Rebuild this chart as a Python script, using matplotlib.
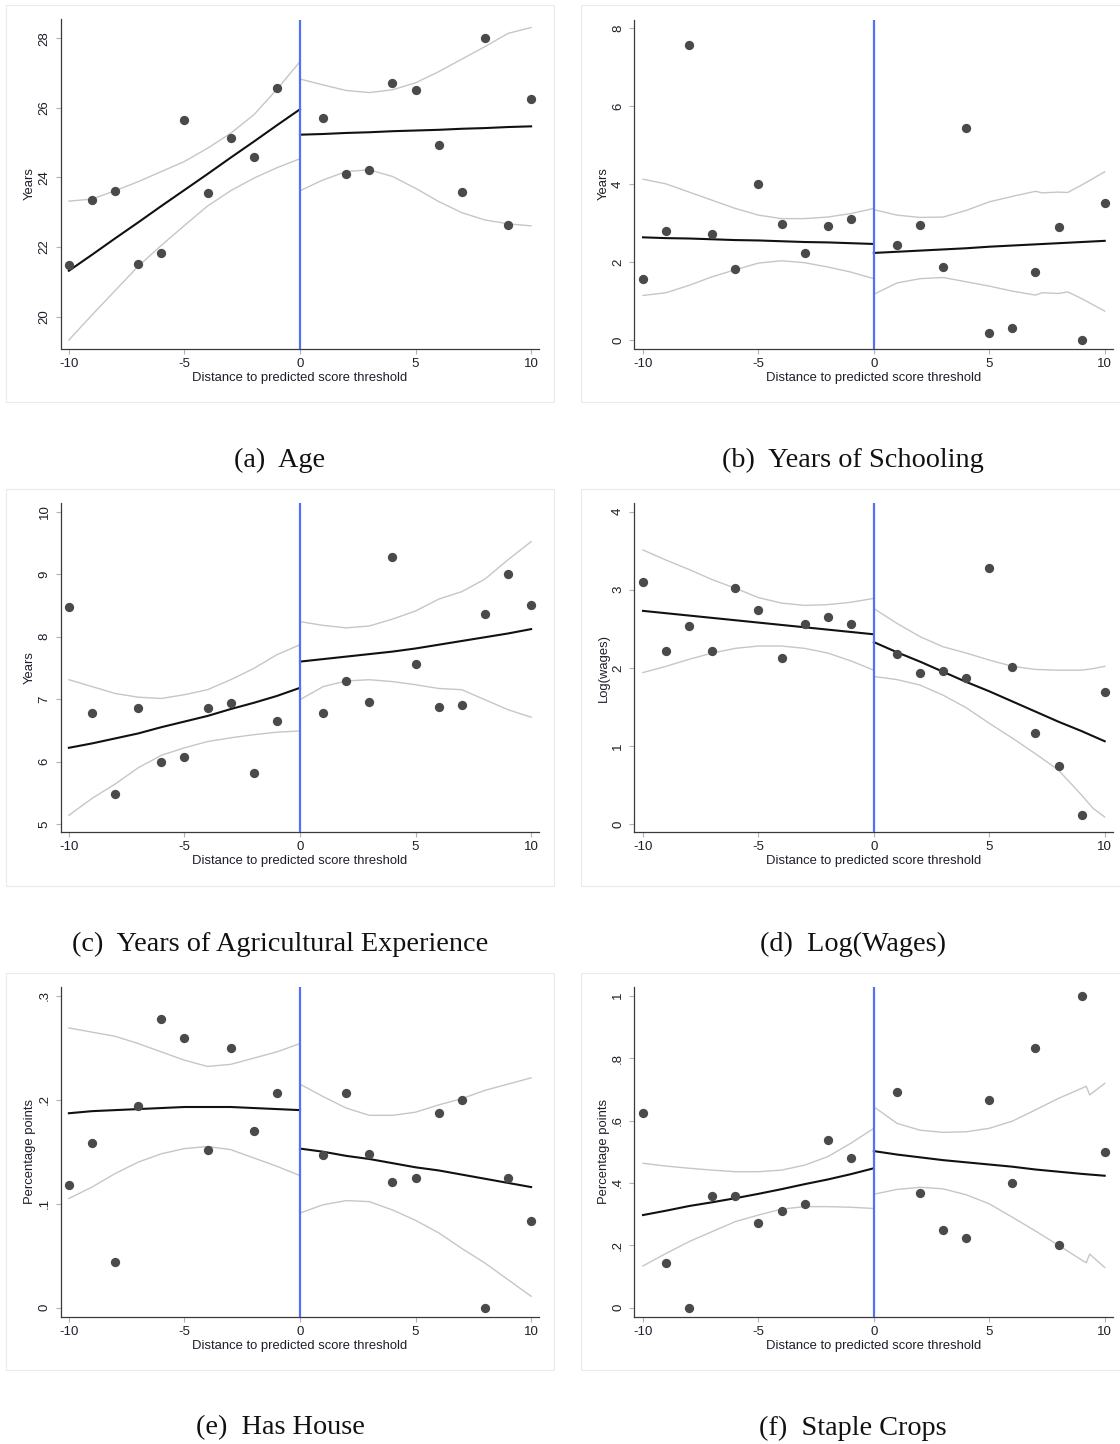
import matplotlib
matplotlib.use("Agg")
import matplotlib.pyplot as plt
from matplotlib.patches import Rectangle

plt.rcParams['font.family'] = ['Liberation Sans', 'DejaVu Sans']

# ---------------- data ----------------
X_LEFT = [-10, -9, -8, -7, -6, -5, -4, -3, -2, -1]
X_RIGHT = [1, 2, 3, 4, 5, 6, 7, 8, 9, 10]
GRID_L = [-10, -9, -8, -7, -6, -5, -4, -3, -2, -1, 0]
GRID_R = [0, 1, 2, 3, 4, 5, 6, 7, 8, 9, 10]
X_TICKS = [-10, -5, 0, 5, 10]
X_LABEL = "Distance to predicted score threshold"

# (a) Age
a_left = [21.49, 23.34, 23.62, 21.52, 21.84, 25.64, 23.55, 25.13, 24.60, 26.58]
a_right = [25.72, 24.11, 24.22, 26.72, 26.50, 24.93, 23.59, 28.00, 22.63, 26.25]
a_fit_l = [21.32, 21.78, 22.25, 22.71, 23.18, 23.64, 24.10, 24.57, 25.03, 25.50, 25.96]
a_fit_r = [25.23, 25.25, 25.28, 25.30, 25.33, 25.35, 25.37, 25.40, 25.42, 25.45, 25.47]
a_hi_l = [23.32, 23.38, 23.62, 23.88, 24.17, 24.46, 24.84, 25.27, 25.80, 26.53, 27.33]
a_lo_l = [19.33, 20.05, 20.75, 21.45, 22.05, 22.62, 23.18, 23.62, 23.98, 24.28, 24.54]
a_hi_r = [26.83, 26.66, 26.50, 26.44, 26.52, 26.72, 27.04, 27.40, 27.76, 28.14, 28.31]
a_lo_r = [23.62, 23.93, 24.17, 24.22, 24.03, 23.69, 23.31, 22.99, 22.78, 22.67, 22.61]
a_yticks = [20, 22, 24, 26, 28]
a_yticklabels = ["20", "22", "24", "26", "28"]

# (b) Years of Schooling
b_left = [1.55, 2.79, 7.55, 2.72, 1.82, 3.99, 2.97, 2.23, 2.91, 3.11]
b_right = [2.44, 2.95, 1.88, 5.44, 0.17, 0.30, 1.75, 2.90, 0.00, 3.50]
b_fit_l = [2.63, 2.61, 2.60, 2.58, 2.56, 2.55, 2.53, 2.51, 2.50, 2.48, 2.46]
b_fit_r = [2.23, 2.26, 2.29, 2.32, 2.35, 2.39, 2.42, 2.45, 2.48, 2.51, 2.54]
b_hi_l = [4.12, 4.00, 3.79, 3.58, 3.37, 3.20, 3.11, 3.11, 3.15, 3.24, 3.37]
b_lo_l = [1.14, 1.21, 1.40, 1.62, 1.80, 1.97, 2.03, 1.98, 1.87, 1.74, 1.57]
b_grid_r = [0, 1, 2, 3, 4, 5, 6, 7, 7.3, 8, 8.4, 9, 10]
b_hi_r = [3.34, 3.20, 3.14, 3.15, 3.32, 3.54, 3.68, 3.81, 3.77, 3.79, 3.78, 3.97, 4.31]
b_lo_r = [1.17, 1.46, 1.57, 1.60, 1.49, 1.38, 1.25, 1.15, 1.21, 1.19, 1.23, 1.06, 0.74]
b_yticks = [0, 2, 4, 6, 8]
b_yticklabels = ["0", "2", "4", "6", "8"]

# (c) Years of Agricultural Experience
c_left = [8.47, 6.78, 5.48, 6.85, 6.00, 6.08, 6.85, 6.94, 5.82, 6.65]
c_right = [6.78, 7.29, 6.95, 9.28, 7.56, 6.88, 6.90, 8.36, 9.00, 8.50]
c_fit_l = [6.22, 6.29, 6.37, 6.45, 6.55, 6.64, 6.73, 6.84, 6.94, 7.05, 7.18]
c_fit_r = [7.60, 7.64, 7.68, 7.72, 7.76, 7.81, 7.87, 7.93, 7.99, 8.05, 8.12]
c_hi_l = [7.31, 7.20, 7.09, 7.03, 7.01, 7.07, 7.15, 7.31, 7.49, 7.71, 7.87]
c_lo_l = [5.14, 5.41, 5.64, 5.90, 6.10, 6.22, 6.32, 6.38, 6.43, 6.47, 6.49]
c_hi_r = [8.24, 8.18, 8.14, 8.17, 8.28, 8.41, 8.60, 8.72, 8.92, 9.23, 9.52]
c_lo_r = [6.99, 7.20, 7.29, 7.31, 7.28, 7.23, 7.17, 7.15, 6.99, 6.83, 6.71]
c_yticks = [5, 6, 7, 8, 9, 10]
c_yticklabels = ["5", "6", "7", "8", "9", "10"]

# (d) Log(Wages)
d_left = [3.10, 2.22, 2.54, 2.22, 3.02, 2.74, 2.13, 2.56, 2.65, 2.56]
d_right = [2.18, 1.94, 1.96, 1.87, 3.28, 2.01, 1.16, 0.74, 0.11, 1.69]
d_fit_l = [2.73, 2.70, 2.67, 2.64, 2.61, 2.58, 2.55, 2.52, 2.49, 2.46, 2.43]
d_fit_r = [2.33, 2.20, 2.08, 1.95, 1.82, 1.70, 1.57, 1.44, 1.31, 1.19, 1.06]
d_hi_l = [3.51, 3.38, 3.26, 3.13, 3.02, 2.90, 2.83, 2.80, 2.81, 2.84, 2.89]
d_lo_l = [1.94, 2.02, 2.11, 2.19, 2.25, 2.28, 2.28, 2.25, 2.19, 2.09, 1.97]
d_grid_r = [0, 1, 2, 3, 4, 5, 6, 7, 8, 9, 9.5, 10]
d_hi_r = [2.76, 2.57, 2.40, 2.27, 2.19, 2.10, 2.02, 1.98, 1.97, 1.97, 1.99, 2.02]
d_lo_r = [1.89, 1.85, 1.78, 1.65, 1.49, 1.29, 1.10, 0.90, 0.69, 0.37, 0.20, 0.09]
d_yticks = [0, 1, 2, 3, 4]
d_yticklabels = ["0", "1", "2", "3", "4"]

# (e) Has House
e_left = [0.118, 0.158, 0.044, 0.194, 0.278, 0.259, 0.152, 0.250, 0.170, 0.206]
e_right = [0.147, 0.206, 0.148, 0.121, 0.125, 0.187, 0.200, 0.000, 0.125, 0.083]
e_fit_l = [0.187, 0.189, 0.190, 0.191, 0.192, 0.193, 0.193, 0.193, 0.192, 0.191, 0.190]
e_fit_r = [0.153, 0.150, 0.146, 0.143, 0.139, 0.135, 0.132, 0.128, 0.124, 0.120, 0.116]
e_hi_l = [0.269, 0.265, 0.261, 0.254, 0.246, 0.238, 0.232, 0.234, 0.240, 0.246, 0.254]
e_lo_l = [0.105, 0.116, 0.129, 0.140, 0.148, 0.153, 0.155, 0.152, 0.144, 0.136, 0.127]
e_hi_r = [0.215, 0.203, 0.192, 0.185, 0.185, 0.188, 0.195, 0.201, 0.209, 0.215, 0.221]
e_lo_r = [0.091, 0.099, 0.103, 0.102, 0.094, 0.084, 0.072, 0.057, 0.043, 0.027, 0.011]
e_yticks = [0, 0.1, 0.2, 0.3]
e_yticklabels = ["0", ".1", ".2", ".3"]

# (f) Staple Crops
f_left = [0.625, 0.142, 0.000, 0.358, 0.359, 0.272, 0.311, 0.333, 0.538, 0.481]
f_right = [0.691, 0.369, 0.250, 0.222, 0.667, 0.400, 0.833, 0.200, 1.000, 0.500]
f_fit_l = [0.297, 0.311, 0.326, 0.338, 0.351, 0.365, 0.380, 0.396, 0.411, 0.428, 0.447]
f_fit_r = [0.502, 0.491, 0.482, 0.473, 0.466, 0.459, 0.452, 0.443, 0.436, 0.429, 0.423]
f_hi_l = [0.463, 0.454, 0.447, 0.441, 0.436, 0.436, 0.441, 0.457, 0.484, 0.527, 0.575]
f_lo_l = [0.134, 0.174, 0.212, 0.244, 0.276, 0.297, 0.316, 0.324, 0.324, 0.322, 0.318]
f_grid_r = [0, 1, 2, 3, 4, 5, 6, 7, 8, 9, 9.2, 9.35, 10]
f_hi_r = [0.644, 0.591, 0.569, 0.562, 0.564, 0.575, 0.598, 0.634, 0.671, 0.703, 0.710, 0.682, 0.719]
f_lo_r = [0.364, 0.379, 0.386, 0.381, 0.362, 0.333, 0.290, 0.246, 0.200, 0.153, 0.144, 0.172, 0.129]
f_yticks = [0, 0.2, 0.4, 0.6, 0.8, 1.0]
f_yticklabels = ["0", ".2", ".4", ".6", ".8", "1"]

captions = ["(a)  Age", "(b)  Years of Schooling",
            "(c)  Years of Agricultural Experience", "(d)  Log(Wages)",
            "(e)  Has House", "(f)  Staple Crops"]
ylabels = ["Years", "Years", "Years", "Log(wages)", "Percentage points", "Percentage points"]

# ---------------- layout ----------------
W, H = 1120, 1444
fig = plt.figure(figsize=(W / 100, H / 100), dpi=100)
fig.patch.set_facecolor("white")

col_axes = [(60.5, 538.5), (634, 1113)]
row_axes = [(19.5, 348.5), (503.3, 831.7), (987.3, 1316.7)]
col_box = [(6.4, 553.6), (580.7, 1126)]
row_box = [(5, 402), (489.3, 886), (973.3, 1370)]
col_cap = [280, 853]
row_cap = [458, 942, 1426]
xlims = [(-10.363, 10.32), (-10.39, 10.36)]
ylims = [(19.086, 28.54), (-0.22, 8.215), (4.877, 10.134),
         (-0.0986, 4.108), (-0.00865, 0.3081), (-0.0288, 1.027)]

panels = [
    dict(l=a_left, r=a_right, fl=a_fit_l, fr=a_fit_r, hl=a_hi_l, ll=a_lo_l,
         gr=GRID_R, hr=a_hi_r, lr=a_lo_r, yt=a_yticks, ytl=a_yticklabels),
    dict(l=b_left, r=b_right, fl=b_fit_l, fr=b_fit_r, hl=b_hi_l, ll=b_lo_l,
         gr=b_grid_r, hr=b_hi_r, lr=b_lo_r, yt=b_yticks, ytl=b_yticklabels),
    dict(l=c_left, r=c_right, fl=c_fit_l, fr=c_fit_r, hl=c_hi_l, ll=c_lo_l,
         gr=GRID_R, hr=c_hi_r, lr=c_lo_r, yt=c_yticks, ytl=c_yticklabels),
    dict(l=d_left, r=d_right, fl=d_fit_l, fr=d_fit_r, hl=d_hi_l, ll=d_lo_l,
         gr=d_grid_r, hr=d_hi_r, lr=d_lo_r, yt=d_yticks, ytl=d_yticklabels),
    dict(l=e_left, r=e_right, fl=e_fit_l, fr=e_fit_r, hl=e_hi_l, ll=e_lo_l,
         gr=GRID_R, hr=e_hi_r, lr=e_lo_r, yt=e_yticks, ytl=e_yticklabels),
    dict(l=f_left, r=f_right, fl=f_fit_l, fr=f_fit_r, hl=f_hi_l, ll=f_lo_l,
         gr=f_grid_r, hr=f_hi_r, lr=f_lo_r, yt=f_yticks, ytl=f_yticklabels),
]

CI_C = "#c6c6c6"
FIT_C = "#111111"
PT_C = "#4a4a4a"
BLUE = "#5272f4"
TXT_C = "#1e1e2a"

for i, p in enumerate(panels):
    row, col = divmod(i, 2)
    x0, x1 = col_axes[col]
    y0, y1 = row_axes[row]
    ax = fig.add_axes([x0 / W, 1 - y1 / H, (x1 - x0) / W, (y1 - y0) / H])
    ax.set_facecolor("white")

    ax.plot(GRID_L, p["hl"], color=CI_C, lw=1.0, zorder=2)
    ax.plot(GRID_L, p["ll"], color=CI_C, lw=1.0, zorder=2)
    ax.plot(p["gr"], p["hr"], color=CI_C, lw=1.0, zorder=2)
    ax.plot(p["gr"], p["lr"], color=CI_C, lw=1.0, zorder=2)
    ax.plot(GRID_L, p["fl"], color=FIT_C, lw=1.5, zorder=3)
    ax.plot(GRID_R, p["fr"], color=FIT_C, lw=1.5, zorder=3)
    ax.axvline(0, color=BLUE, lw=1.6, zorder=4)
    ax.plot(X_LEFT, p["l"], "o", ms=6.7, color=PT_C, mec="none", zorder=5)
    ax.plot(X_RIGHT, p["r"], "o", ms=6.7, color=PT_C, mec="none", zorder=5)

    ax.set_xlim(*xlims[col])
    ax.set_ylim(*ylims[i])
    ax.set_xticks(X_TICKS, [str(t) for t in X_TICKS])
    ax.set_yticks(p["yt"], p["ytl"])

    for s in ("top", "right"):
        ax.spines[s].set_visible(False)
    for s in ("left", "bottom"):
        ax.spines[s].set_color("#3a3a3a")
        ax.spines[s].set_linewidth(0.9)

    ax.tick_params(direction="out", length=3.6, width=0.8, color="#b4b4b4",
                   labelsize=9.5, labelcolor=TXT_C, pad=3)
    ax.tick_params(axis="y", labelrotation=90, pad=3.5)
    for lab in ax.get_yticklabels():
        lab.set_verticalalignment("center")
        lab.set_horizontalalignment("right")

    ax.set_xlabel(X_LABEL, fontsize=9.4, color=TXT_C)
    ax.xaxis.set_label_coords(0.5, -29.5 / (y1 - y0))
    ax.xaxis.label.set_verticalalignment("center")
    ax.set_ylabel(ylabels[i], fontsize=9.4, color=TXT_C)
    ax.yaxis.set_label_coords(-30.5 / (x1 - x0), 0.5)
    ax.yaxis.label.set_verticalalignment("center")

    bx0, bx1 = col_box[col]
    by0, by1 = row_box[row]
    fig.add_artist(Rectangle((bx0 / W, 1 - by1 / H), (bx1 - bx0) / W, (by1 - by0) / H,
                             transform=fig.transFigure, fill=False,
                             ec="#ebebeb", lw=0.8))

    fig.text(col_cap[col] / W, 1 - (row_cap[row] + 2) / H, captions[i],
             ha="center", va="center", fontsize=20.3,
             family=["Liberation Serif", "DejaVu Serif"], color="#111111")

fig.savefig("out.png", dpi=100, facecolor="white")
